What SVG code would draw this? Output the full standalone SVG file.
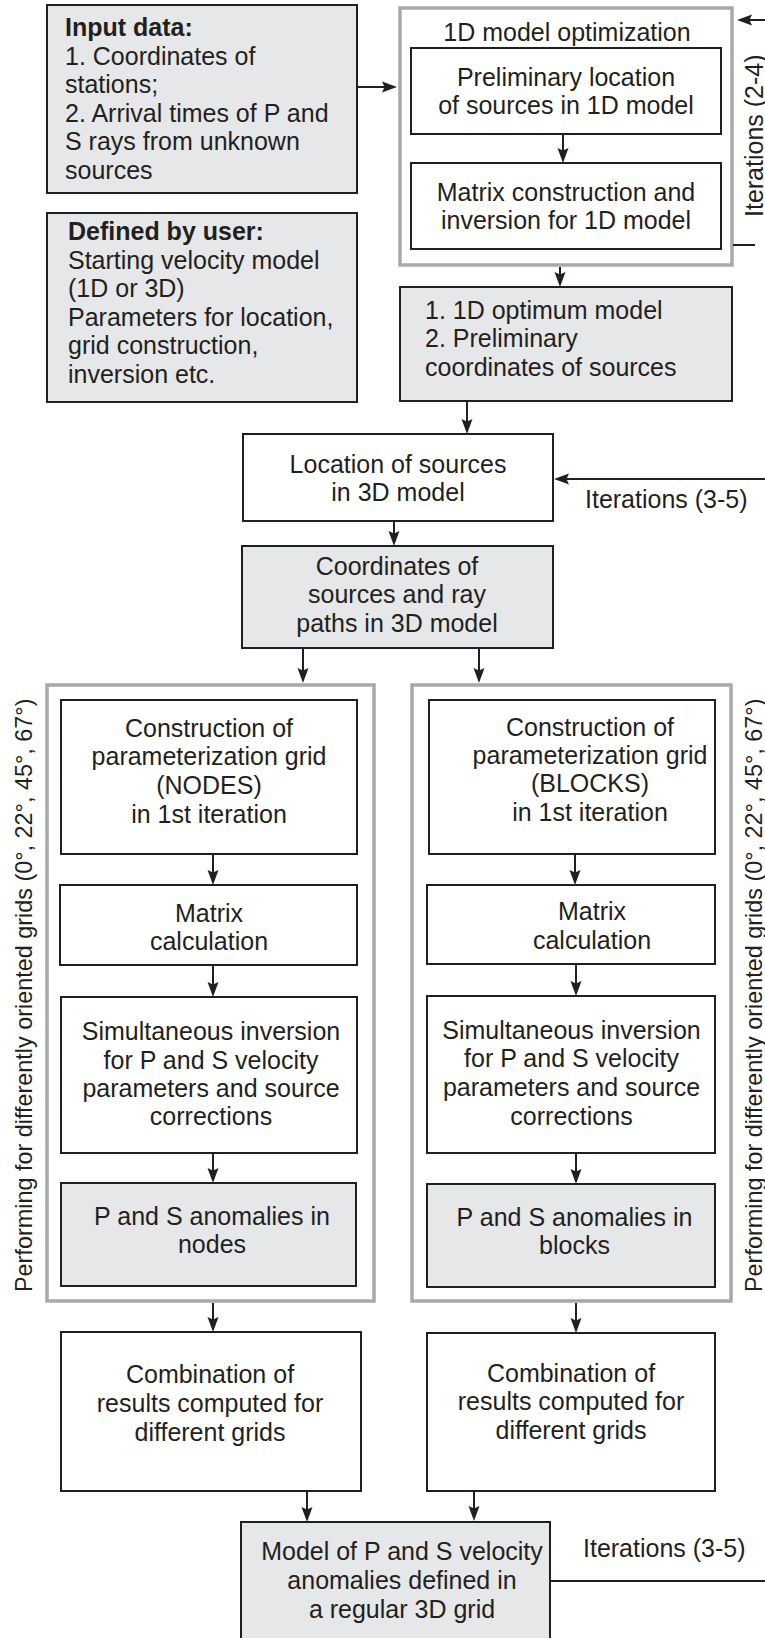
<svg xmlns="http://www.w3.org/2000/svg" width="765" height="1638" viewBox="0 0 765 1638">
<defs>
<style>
.bg{fill:#ffffff}
.box{fill:#ffffff;stroke:#231f20;stroke-width:2}
.gbox{fill:#e6e7e8;stroke:#231f20;stroke-width:2}
.cont{fill:#ffffff;stroke:#a7a9ac;stroke-width:3.5}
.t{font-family:"Liberation Sans",Arial,sans-serif;font-size:25px;fill:#231f20}
.c{text-anchor:middle}
.b{font-weight:bold}
.rot{font-family:"Liberation Sans",Arial,sans-serif;font-size:23.4px;fill:#231f20}
.ln{fill:none;stroke:#231f20;stroke-width:2}
.ar{marker-end:url(#ah)}
</style>
<marker id="ah" viewBox="0 0 15 12" refX="12" refY="6" markerWidth="15" markerHeight="12" markerUnits="userSpaceOnUse" orient="auto">
<path d="M0,0.5 L15,6 L0,11.5 L2.5,6 Z" fill="#231f20"/>
</marker>
</defs>
<rect class="bg" x="0" y="0" width="765" height="1638"/>

<g id="input-data">
<rect class="gbox" x="47" y="5" width="310" height="188"/>
<text class="t b" x="65" y="36">Input data:</text>
<text class="t" x="65" y="64.5">1. Coordinates of</text>
<text class="t" x="65" y="93">stations;</text>
<text class="t" x="65" y="121.5">2. Arrival times of P and</text>
<text class="t" x="65" y="150">S rays from unknown</text>
<text class="t" x="65" y="178.5">sources</text>
</g>

<g id="defined-by-user">
<rect class="gbox" x="47" y="213" width="310" height="189"/>
<text class="t b" x="68" y="240">Defined by user:</text>
<text class="t" x="68" y="268.5">Starting velocity model</text>
<text class="t" x="68" y="297">(1D or 3D)</text>
<text class="t" x="68" y="325.5">Parameters for location,</text>
<text class="t" x="68" y="354">grid construction,</text>
<text class="t" x="68" y="382.5">inversion etc.</text>
</g>

<g id="opt1d-container">
<rect class="cont" x="400" y="8" width="332" height="257"/>
<text class="t c" x="567" y="41">1D model optimization</text>
</g>

<g id="prelim-location">
<rect class="box" x="411" y="48" width="310" height="86"/>
<text class="t c" x="566" y="86">Preliminary location</text>
<text class="t c" x="566" y="113.5">of sources in 1D model</text>
</g>

<g id="matrix-1d">
<rect class="box" x="411" y="163" width="310" height="86"/>
<text class="t c" x="566" y="201">Matrix construction and</text>
<text class="t c" x="566" y="229">inversion for 1D model</text>
</g>

<g id="iter-2-4">
<text class="t" transform="translate(763,217) rotate(-90)">Iterations (2-4)</text>
</g>

<g id="opt1d-result">
<rect class="gbox" x="400" y="287" width="332" height="114"/>
<text class="t" x="425" y="319">1. 1D optimum model</text>
<text class="t" x="425" y="347">2. Preliminary</text>
<text class="t" x="425" y="376">coordinates of sources</text>
</g>

<g id="location-3d">
<rect class="box" x="243" y="434" width="310" height="87"/>
<text class="t c" x="398" y="473">Location of sources</text>
<text class="t c" x="398" y="500.5">in 3D model</text>
</g>

<g id="iter-3-5-top">
<text class="t" x="585" y="508">Iterations (3-5)</text>
</g>

<g id="coords-3d">
<rect class="gbox" x="242" y="546" width="311" height="102"/>
<text class="t c" x="397" y="575">Coordinates of</text>
<text class="t c" x="397" y="603">sources and ray</text>
<text class="t c" x="397" y="632">paths in 3D model</text>
</g>

<g id="nodes-container">
<rect class="cont" x="47" y="685" width="327" height="616"/>
<text class="rot" transform="translate(32,1292) rotate(-90)">Performing for differently oriented grids (0°, 22°, 45°, 67°)</text>
</g>

<g id="blocks-container">
<rect class="cont" x="412" y="685" width="319" height="616"/>
<text class="rot" transform="translate(762,1292) rotate(-90)">Performing for differently oriented grids (0°, 22°, 45°, 67°)</text>
</g>

<g id="grid-nodes">
<rect class="box" x="61" y="700" width="296" height="154"/>
<text class="t c" x="209" y="737">Construction of</text>
<text class="t c" x="209" y="765">parameterization grid</text>
<text class="t c" x="209" y="793.5">(NODES)</text>
<text class="t c" x="209" y="822.5">in 1st iteration</text>
</g>

<g id="matrix-nodes">
<rect class="box" x="60" y="885" width="297" height="80"/>
<text class="t c" x="209" y="921.5">Matrix</text>
<text class="t c" x="209" y="950">calculation</text>
</g>

<g id="inversion-nodes">
<rect class="box" x="61" y="997" width="296" height="156"/>
<text class="t c" x="211" y="1040">Simultaneous inversion</text>
<text class="t c" x="211" y="1068.5">for P and S velocity</text>
<text class="t c" x="211" y="1097">parameters and source</text>
<text class="t c" x="211" y="1125">corrections</text>
</g>

<g id="anomalies-nodes">
<rect class="gbox" x="61" y="1183" width="295" height="103"/>
<text class="t c" x="212" y="1225">P and S anomalies in</text>
<text class="t c" x="212" y="1253">nodes</text>
</g>

<g id="grid-blocks">
<rect class="box" x="429" y="700" width="286" height="154"/>
<text class="t c" x="590" y="735.5">Construction of</text>
<text class="t c" x="590" y="763.5">parameterization grid</text>
<text class="t c" x="590" y="792">(BLOCKS)</text>
<text class="t c" x="590" y="820.5">in 1st iteration</text>
</g>

<g id="matrix-blocks">
<rect class="box" x="427" y="885" width="288" height="79"/>
<text class="t c" x="592" y="920">Matrix</text>
<text class="t c" x="592" y="949">calculation</text>
</g>

<g id="inversion-blocks">
<rect class="box" x="427" y="996" width="288" height="157"/>
<text class="t c" x="571.5" y="1038.5">Simultaneous inversion</text>
<text class="t c" x="571.5" y="1067">for P and S velocity</text>
<text class="t c" x="571.5" y="1096">parameters and source</text>
<text class="t c" x="571.5" y="1125">corrections</text>
</g>

<g id="anomalies-blocks">
<rect class="gbox" x="427" y="1184" width="288" height="103"/>
<text class="t c" x="574.5" y="1226">P and S anomalies in</text>
<text class="t c" x="574.5" y="1254">blocks</text>
</g>

<g id="combine-nodes">
<rect class="box" x="61" y="1332" width="300" height="159"/>
<text class="t c" x="210" y="1383">Combination of</text>
<text class="t c" x="210" y="1412">results computed for</text>
<text class="t c" x="210" y="1441">different grids</text>
</g>

<g id="combine-blocks">
<rect class="box" x="427" y="1333" width="288" height="158"/>
<text class="t c" x="571" y="1382">Combination of</text>
<text class="t c" x="571" y="1410">results computed for</text>
<text class="t c" x="571" y="1439">different grids</text>
</g>

<g id="final-model">
<rect class="gbox" x="241" y="1522" width="309" height="130"/>
<text class="t c" x="402" y="1560">Model of P and S velocity</text>
<text class="t c" x="402" y="1589">anomalies defined in</text>
<text class="t c" x="402" y="1618">a regular 3D grid</text>
</g>

<g id="iter-3-5-bottom">
<text class="t" x="583" y="1557">Iterations (3-5)</text>
</g>

<g id="connectors">
<path class="ln ar" d="M357,87 H394"/>
<path class="ln ar" d="M770,20 H740"/>
<path class="ln" d="M733,245 H755"/>
<path class="ln ar" d="M563,134 V160"/>
<path class="ln ar" d="M560,267 V284"/>
<path class="ln ar" d="M467,401 V431"/>
<path class="ln ar" d="M770,479 H557"/>
<path class="ln ar" d="M394,521 V543"/>
<path class="ln ar" d="M303,648 V680"/>
<path class="ln ar" d="M479,648 V680"/>
<path class="ln ar" d="M213,854 V882"/>
<path class="ln ar" d="M213,965 V994"/>
<path class="ln ar" d="M213,1153 V1180"/>
<path class="ln ar" d="M213,1303 V1329"/>
<path class="ln ar" d="M307,1491 V1519"/>
<path class="ln ar" d="M575,854 V882"/>
<path class="ln ar" d="M576,964 V993"/>
<path class="ln ar" d="M576,1153 V1181"/>
<path class="ln ar" d="M576,1303 V1330"/>
<path class="ln ar" d="M474,1491 V1518"/>
<path class="ln" d="M550,1581 H770"/>
</g>
</svg>
